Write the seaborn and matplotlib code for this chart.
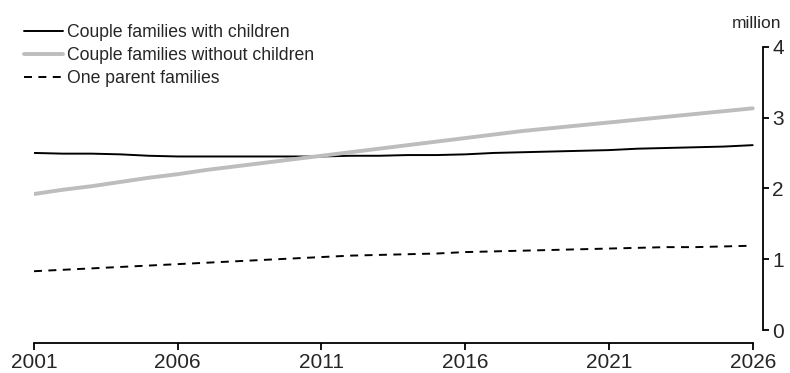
import matplotlib
matplotlib.use("Agg")
import matplotlib.pyplot as plt
import seaborn as sns
import pandas as pd

years = list(range(2001, 2027))
with_children = [2.50, 2.49, 2.49, 2.48, 2.46, 2.45, 2.45, 2.45, 2.45, 2.45,
                 2.45, 2.46, 2.46, 2.47, 2.47, 2.48, 2.50, 2.51, 2.52, 2.53,
                 2.54, 2.56, 2.57, 2.58, 2.59, 2.61]
without_children = [1.92, 1.98, 2.03, 2.09, 2.15, 2.20, 2.26, 2.31, 2.36, 2.41,
                    2.46, 2.51, 2.56, 2.61, 2.66, 2.71, 2.76, 2.81, 2.85, 2.89,
                    2.93, 2.97, 3.01, 3.05, 3.09, 3.13]
one_parent = [0.83, 0.85, 0.87, 0.89, 0.91, 0.93, 0.95, 0.97, 0.99, 1.01,
              1.03, 1.05, 1.06, 1.07, 1.08, 1.10, 1.11, 1.12, 1.13, 1.14,
              1.15, 1.16, 1.17, 1.17, 1.18, 1.19]
series_names = ["Couple families with children", "Couple families without children",
                "One parent families"]
x_ticks = [2001, 2006, 2011, 2016, 2021, 2026]
y_ticks = [0, 1, 2, 3, 4]

sns.set_theme(style="white")
plt.rcParams['font.family'] = ['Liberation Sans', 'DejaVu Sans']

df = pd.DataFrame({"year": years, series_names[0]: with_children,
                   series_names[1]: without_children, series_names[2]: one_parent})

fig = plt.figure(figsize=(7.9, 3.73), dpi=100)
ax = fig.add_axes([34/790, 1-330/373, (762.7-34)/790, (330-46.7)/373])

styles = [dict(color="black", linewidth=1.4, linestyle="-"),
          dict(color="#bdbdbd", linewidth=2.8, linestyle="-"),
          dict(color="black", linewidth=1.4, linestyle=(0, (4.1, 3.3)))]
for name, st in zip(series_names, styles):
    sns.lineplot(data=df, x="year", y=name, ax=ax, label=name, **st)

ax.set_xlim(2001, 2026 + 10/28.75)
ax.set_ylim(0, 4)
ax.set_xlabel("")
ax.set_ylabel("")
ax.set_xticks(x_ticks)
ax.set_yticks(y_ticks)

for s in ["top", "left"]:
    ax.spines[s].set_visible(False)
ax.spines["bottom"].set_bounds(2001, 2026)
ax.spines["bottom"].set_position(("outward", 9))
ax.spines["right"].set_bounds(0, 4)
for s in ["bottom", "right"]:
    ax.spines[s].set_color("black")
    ax.spines[s].set_linewidth(1.3)

ax.yaxis.tick_right()
ax.tick_params(axis="y", direction="out", length=4, width=1.3, color="black",
               labelsize=15, pad=3, right=True, left=False)
ax.tick_params(axis="x", direction="out", length=5, width=1.3, color="black",
               labelsize=15, pad=2.5, bottom=True)
ax.text(0.992, 1.055, "million", transform=ax.transAxes, ha="center", va="bottom",
        fontsize=12.5)

ax.legend(loc="upper left", bbox_to_anchor=(0.030, 0.935), bbox_transform=fig.transFigure,
          frameon=False, fontsize=12.7, handlelength=2.2, handletextpad=0.28,
          labelspacing=0.34, borderaxespad=0, borderpad=0)

fig.savefig("out.png", dpi=100)
